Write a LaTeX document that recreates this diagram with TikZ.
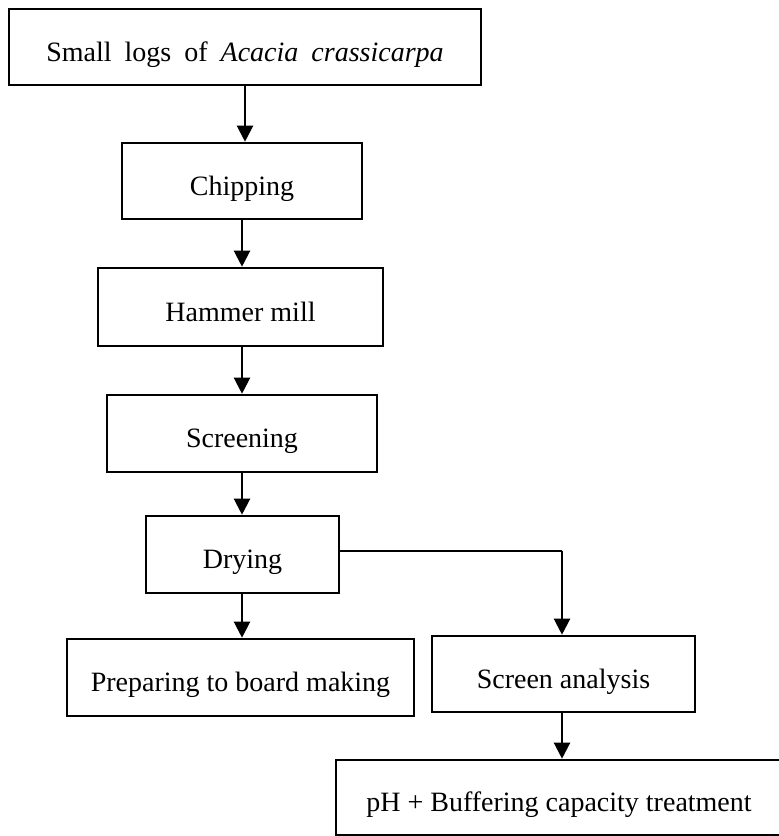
\documentclass[tikz,border=0pt]{standalone}
\usepackage{fontspec}
\setmainfont{Liberation Serif}
\usetikzlibrary{arrows.meta}
\newcommand{\wsp}{\hspace{13pt}}
\begin{document}
\begin{tikzpicture}[x=1pt,y=-1pt,
  box/.style={draw, line width=2.6pt, inner sep=0pt, align=center,
    text height=28pt, text depth=0pt,
    font=\fontsize{28}{32}\selectfont},
  arr/.style={line width=2.2pt, -{Triangle[length=16pt,width=16pt]}},
  link/.style={line width=1.6pt}
]
\useasboundingbox (0,0) rectangle (779,836);
\node[box, minimum width=472pt, minimum height=76pt] (top) at (245,47) {Small\wsp logs\wsp of\wsp \textit{Acacia\wsp crassicarpa}};
\node[box, minimum width=240pt, minimum height=76pt] (chip) at (242,181) {Chipping};
\node[box, minimum width=285pt, minimum height=78pt] (ham) at (240.5,307) {Hammer mill};
\node[box, minimum width=270pt, minimum height=77pt] (scr) at (242,433.5) {Screening};
\node[box, minimum width=193pt, minimum height=77pt] (dry) at (242.5,554.5) {Drying};
\node[box, minimum width=347pt, minimum height=77pt] (prep) at (240.5,677.5) {Preparing to board making};
\node[box, minimum width=263pt, minimum height=76pt] (sa) at (563.5,674) {Screen analysis};
\node[box, minimum width=446pt, minimum height=75pt] (ph) at (559,797.5) {pH + Buffering capacity treatment};
\coordinate (c1) at (562,551);
\draw[arr] (top.south) -- (top.south |- chip.north);
\draw[arr] (chip.south) -- (chip.south |- ham.north);
\draw[arr] (chip.south |- ham.south) -- (chip.south |- scr.north);
\draw[arr] (scr.south) -- (scr.south |- dry.north);
\draw[arr] (scr.south |- dry.south) -- (scr.south |- prep.north);
\draw[link] (dry.east |- c1) -- (c1);
\draw[arr] (c1) -- (c1 |- sa.north);
\draw[arr] (c1 |- sa.south) -- (c1 |- ph.north);
\end{tikzpicture}
\end{document}
